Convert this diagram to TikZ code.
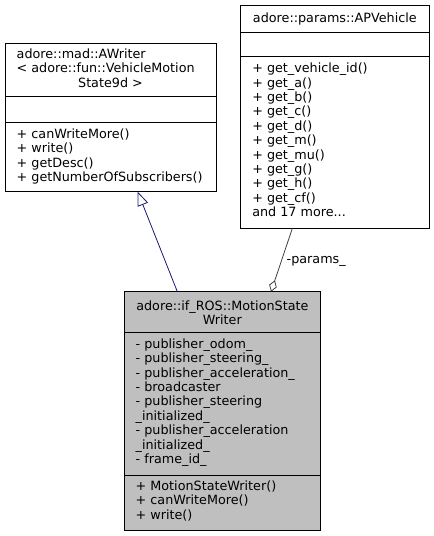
\documentclass[tikz,border=0pt]{standalone}
\usepackage{fontspec}
\setmainfont{DejaVu Sans}
\usetikzlibrary{arrows.meta}
\definecolor{umlgray}{HTML}{BFBFBF}
\definecolor{inhblue}{HTML}{191970}
\definecolor{aggray}{HTML}{404040}
\tikzset{
  umlbox/.style={draw=black, line width=0.9pt, rectangle, inner sep=0pt, outer sep=0pt, anchor=north west},
  sepline/.style={draw=black, line width=0.9pt},
  txt/.style={inner sep=0pt, outer sep=0pt, anchor=base west},
  ctxt/.style={inner sep=0pt, outer sep=0pt, anchor=base},
  inherit/.style={draw=inhblue, line width=0.8pt, {Triangle[open, length=14pt, width=11pt]}-},
  aggreg/.style={draw=aggray, line width=0.8pt, -{Diamond[open, length=12pt, width=8pt]}}
}
\begin{document}
\begin{tikzpicture}[x=1pt, y=-1pt, font=\fontsize{12.75}{14.4}\selectfont]
\useasboundingbox (0,0) rectangle (434,536);
% AWriter
\node[umlbox, fill=white, minimum width=211pt, minimum height=148.4pt] (awriter) at (5,43.3) {};
\draw[sepline] (awriter.west |- 0,96.7) -- (awriter.east |- 0,96.7);
\draw[sepline] (awriter.west |- 0,122.7) -- (awriter.east |- 0,122.7);
\node[txt] (awt1) at (16.7,58.3) {\vtop{\hbox{adore::mad::AWriter}\hbox{< adore::fun::VehicleMotion}}};
\node[ctxt] (awt2) at (110.5,87) {State9d >};
\node[txt] (awm) at (16.7,138.3) {\vtop{\hbox{+ canWriteMore()}\hbox{+ write()}\hbox{+ getDesc()}\hbox{+ getNumberOfSubscribers()}}};
% APVehicle
\node[umlbox, fill=white, minimum width=188.3pt, minimum height=223pt] (apv) at (240.7,5.3) {};
\draw[sepline] (apv.west |- 0,32.3) -- (apv.east |- 0,32.3);
\draw[sepline] (apv.west |- 0,56.7) -- (apv.east |- 0,56.7);
\node[ctxt] (apvt) at (334.85,22.7) {adore::params::APVehicle};
\node[txt] (apvm) at (252.3,72.7) {\vtop{\hbox{+ get\_vehicle\_id()}\hbox{+ get\_a()}\hbox{+ get\_b()}\hbox{+ get\_c()}\hbox{+ get\_d()}\hbox{+ get\_m()}\hbox{+ get\_mu()}\hbox{+ get\_g()}\hbox{+ get\_h()}\hbox{+ get\_cf()}\hbox{and 17 more...}}};
% MotionStateWriter
\node[umlbox, fill=umlgray, minimum width=196.7pt, minimum height=238.3pt] (msw) at (124,291.7) {};
\draw[sepline] (msw.west |- 0,332.7) -- (msw.east |- 0,332.7);
\draw[sepline] (msw.west |- 0,475) -- (msw.east |- 0,475);
\node[ctxt] (mswt1) at (222.35,310) {adore::if\_ROS::MotionState};
\node[ctxt] (mswt2) at (222.35,324.4) {Writer};
\node[txt] (mswa) at (135.7,348.3) {\vtop{\hbox{- publisher\_odom\_}\hbox{- publisher\_steering\_}\hbox{- publisher\_acceleration\_}\hbox{- broadcaster}\hbox{- publisher\_steering}\hbox{\_initialized\_}\hbox{- publisher\_acceleration}\hbox{\_initialized\_}\hbox{- frame\_id\_}}};
\node[txt] (mswm) at (135.7,490.3) {\vtop{\hbox{+ MotionStateWriter()}\hbox{+ canWriteMore()}\hbox{+ write()}}};
% connectors
\draw[inherit] ([xshift=27.2pt]awriter.south) -- ([xshift=-45pt]msw.north);
\draw[aggreg] ([xshift=-42.5pt]apv.south) -- ([xshift=48.7pt]msw.north);
\node[txt] (plabel) at (286.7,263.3) {-params\_};
\end{tikzpicture}
\end{document}
